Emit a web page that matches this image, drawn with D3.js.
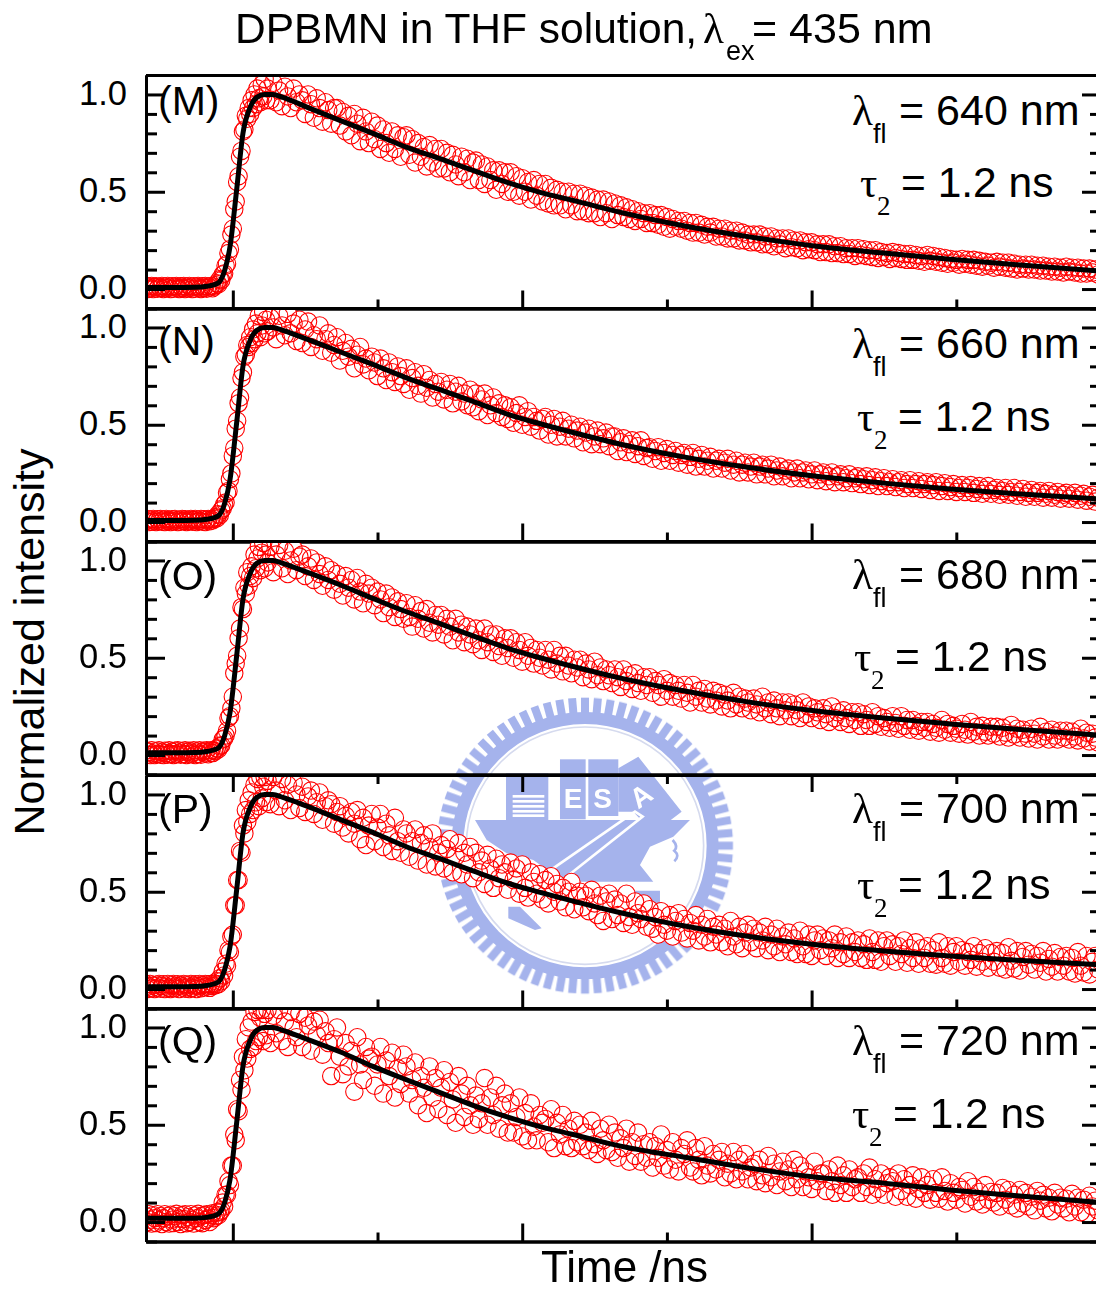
<!DOCTYPE html>
<html>
<head>
<meta charset="utf-8">
<script src="https://cdn.jsdelivr.net/npm/d3@7"></script>
<style>
  html, body { margin: 0; padding: 0; background: #fff; }
  svg { display: block; }
  text { font-family: "Liberation Sans", Arial, sans-serif; fill: #000; }
  .sym { font-family: "Liberation Serif", serif; }
</style>
</head>
<body>
<script>
// --- data ---
const timeNs = [
  -.30,-.295,-.29,-.285,-.28,-.275,-.27,-.265,-.26,-.255,-.25,-.245,
  -.24,-.235,-.23,-.225,-.22,-.215,-.21,-.205,-.20,-.195,-.19,-.185,
  -.18,-.175,-.17,-.165,-.16,-.155,-.15,-.145,-.14,-.135,-.13,-.125,
  -.12,-.115,-.11,-.105,-.10,-.095,-.09,-.085,-.08,-.075,-.07,-.065,
  -.06,-.055,-.05,-.045,-.04,-.035,-.03,-.025,-.02,-.015,-.01,-.005,
  0,.005,.01,.015,.02,.025,.03,.035,.04,.045,.05,.055,
  .06,.065,.07,.075,.08,.085,.09,.095,.10,.105,.11,.115,
  .12,.13,.14,.15,.16,.17,.18,.19,.20,.21,.22,.23,
  .24,.25,.26,.27,.28,.29,.30,.31,.32,.33,.34,.35,
  .36,.37,.38,.39,.40,.41,.42,.43,.44,.45,.46,.47,
  .48,.49,.50,.51,.52,.53,.54,.55,.56,.57,.58,.59,
  .60,.61,.62,.63,.64,.65,.66,.67,.68,.69,.70,.71,
  .72,.73,.74,.75,.76,.77,.78,.79,.80,.81,.82,.83,
  .84,.85,.86,.87,.88,.89,.90,.91,.92,.93,.94,.95,
  .96,.97,.98,.99,1.00,1.01,1.02,1.03,1.04,1.05,1.06,1.07,
  1.08,1.09,1.10,1.11,1.12,1.13,1.14,1.15,1.16,1.17,1.18,1.19,
  1.20,1.21,1.22,1.23,1.24,1.25,1.26,1.27,1.28,1.29,1.30,1.31,
  1.32,1.33,1.34,1.35,1.36,1.37,1.38,1.39,1.40,1.41,1.42,1.43,
  1.44,1.45,1.46,1.47,1.48,1.49,1.50,1.51,1.52,1.53,1.54,1.55,
  1.56,1.57,1.58,1.59,1.60,1.61,1.62,1.63,1.64,1.65,1.66,1.67,
  1.68,1.69,1.70,1.71,1.72,1.73,1.74,1.75,1.76,1.77,1.78,1.79,
  1.80,1.81,1.82,1.83,1.84,1.85,1.86,1.87,1.88,1.89,1.90,1.91,
  1.92,1.93,1.94,1.95,1.96,1.97,1.98,1.99,2.00,2.01,2.02,2.03,
  2.04,2.05,2.06,2.07,2.08,2.09,2.10,2.11,2.12,2.13,2.14,2.15,
  2.16,2.17,2.18,2.19,2.20,2.21,2.22,2.23,2.24,2.25,2.26,2.27,
  2.28,2.29,2.30,2.31,2.32,2.33,2.34,2.35,2.36,2.37,2.38,2.39,
  2.40,2.41,2.42,2.43,2.44,2.45,2.46,2.47,2.48,2.49,2.50,2.51,
  2.52,2.53,2.54,2.55,2.56,2.57,2.58,2.59,2.60,2.61,2.62,2.63,
  2.64,2.65,2.66,2.67,2.68,2.69,2.70,2.71,2.72,2.73,2.74,2.75,
  2.76,2.77,2.78,2.79,2.80,2.81,2.82,2.83,2.84,2.85,2.86,2.87,
  2.88,2.89,2.90,2.91,2.92,2.93,2.94,2.95,2.96,2.97,2.98,2.99
];

const intensityM = [
  .015,.00,.012,.004,.016,.00,.01,.014,.002,.012,.006,.016,
  .00,.012,.004,.016,.008,.00,.014,.002,.012,.016,.004,.00,
  .014,.006,.016,.00,.012,.004,.016,.008,.00,.014,.002,.012,
  .016,.004,.00,.014,.006,.016,.002,.012,.008,.016,.004,.012,
  .02,.03,.025,.05,.045,.075,.08,.12,.13,.185,.205,.28,
  .31,.41,.45,.55,.58,.68,.71,.81,.82,.89,.875,.93,
  .90,.97,.93,1.0,.95,1.03,.98,.96,1.05,.99,1.08,.97,
  1.03,.97,1.06,.96,1.02,.94,1.04,.99,.93,1.03,.96,1.0,
  .97,.90,1.0,.95,.88,.98,.93,.86,.96,.92,.85,.93,
  .93,.84,.91,.81,.89,.79,.90,.85,.76,.88,.81,.75,
  .86,.77,.84,.72,.82,.75,.70,.81,.72,.79,.68,.78,
  .79,.69,.77,.65,.75,.68,.73,.63,.74,.65,.72,.62,
  .72,.62,.70,.60,.69,.64,.58,.68,.60,.67,.56,.65,
  .66,.56,.64,.54,.63,.56,.61,.51,.61,.54,.60,.50,
  .60,.50,.58,.48,.57,.50,.55,.46,.56,.48,.54,.45,
  .54,.44,.52,.43,.51,.43,.50,.41,.50,.43,.49,.40,
  .49,.40,.48,.39,.47,.39,.46,.37,.46,.39,.45,.36,
  .44,.38,.43,.37,.42,.36,.41,.35,.40,.36,.39,.34,
  .39,.34,.38,.33,.38,.32,.37,.31,.36,.32,.35,.31,
  .35,.30,.34,.29,.34,.29,.33,.28,.32,.29,.32,.27,
  .31,.27,.31,.26,.30,.26,.30,.25,.29,.25,.28,.24,
  .28,.24,.28,.23,.27,.23,.27,.22,.26,.23,.26,.21,
  .26,.215,.25,.21,.25,.20,.24,.205,.24,.20,.23,.19,
  .23,.19,.23,.185,.22,.185,.22,.18,.21,.18,.21,.17,
  .21,.175,.205,.17,.20,.165,.20,.16,.19,.165,.185,.155,
  .19,.16,.185,.155,.18,.15,.18,.15,.175,.145,.17,.14,
  .175,.145,.17,.14,.165,.135,.16,.13,.155,.135,.15,.125,
  .155,.13,.15,.125,.15,.12,.145,.115,.14,.12,.135,.11,
  .14,.115,.135,.11,.135,.105,.13,.10,.125,.105,.125,.10,
  .125,.10,.12,.095,.12,.095,.115,.09,.115,.09,.11,.085,
  .115,.09,.11,.085,.11,.08,.105,.08,.105,.085,.10,.075
];

const intensityN = [
  .006,.016,.00,.012,.002,.016,.008,.00,.014,.004,.016,.002,
  .012,.00,.016,.006,.012,.00,.014,.004,.016,.008,.00,.012,
  .002,.016,.006,.014,.00,.012,.004,.016,.002,.010,.016,.00,
  .012,.006,.016,.002,.014,.00,.012,.016,.004,.014,.008,.016,
  .025,.02,.04,.035,.06,.07,.09,.10,.15,.16,.22,.25,
  .34,.38,.48,.52,.61,.64,.74,.77,.85,.86,.91,.90,
  .95,.92,.99,.94,1.02,.97,1.06,.95,1.01,1.08,.97,1.04,
  .98,1.05,1.0,.94,1.06,1.01,.96,1.07,.97,1.02,.93,1.04,
  .92,.99,1.03,.90,.96,.94,1.01,.88,.94,.97,.87,.91,
  .95,.83,.88,.92,.85,.89,.79,.86,.90,.81,.84,.78,
  .85,.82,.75,.84,.79,.73,.82,.77,.72,.80,.75,.71,
  .79,.68,.74,.77,.70,.66,.76,.69,.73,.64,.71,.67,
  .72,.63,.68,.71,.61,.67,.70,.62,.66,.60,.68,.59,
  .66,.57,.63,.66,.55,.60,.64,.56,.61,.54,.60,.53,
  .59,.51,.56,.60,.50,.54,.57,.49,.54,.52,.47,.53,
  .54,.45,.50,.53,.44,.49,.52,.44,.48,.50,.43,.47,
  .49,.41,.46,.48,.40,.44,.47,.40,.43,.46,.39,.44,
  .44,.365,.41,.43,.36,.40,.42,.35,.39,.42,.34,.38,
  .385,.325,.365,.385,.315,.355,.375,.315,.345,.365,.305,.345,
  .355,.295,.335,.355,.285,.325,.345,.285,.315,.335,.275,.315,
  .325,.275,.305,.325,.265,.295,.315,.255,.295,.305,.255,.285,
  .305,.245,.285,.295,.245,.275,.295,.235,.265,.285,.235,.265,
  .275,.225,.255,.275,.225,.255,.265,.22,.245,.265,.215,.245,
  .255,.21,.235,.255,.205,.235,.245,.205,.225,.245,.20,.225,
  .235,.195,.22,.235,.19,.215,.23,.185,.21,.225,.185,.205,
  .22,.18,.205,.215,.175,.195,.215,.175,.195,.21,.17,.195,
  .205,.165,.19,.205,.16,.185,.20,.16,.18,.195,.155,.175,
  .19,.155,.175,.19,.15,.17,.185,.145,.165,.185,.145,.165,
  .175,.14,.16,.175,.14,.155,.175,.135,.155,.17,.13,.15,
  .165,.13,.15,.16,.125,.145,.16,.125,.14,.155,.12,.14,
  .15,.12,.135,.15,.115,.135,.145,.11,.13,.14,.105,.125
];

const intensityO = [
  .022,.002,.016,.00,.024,.008,.00,.02,.006,.024,.002,.016,
  .00,.022,.01,.002,.024,.006,.018,.00,.022,.004,.024,.012,
  .002,.02,.006,.024,.00,.016,.022,.004,.012,.024,.00,.018,
  .006,.024,.002,.016,.022,.008,.024,.004,.018,.024,.01,.022,
  .02,.035,.03,.045,.05,.08,.085,.10,.125,.19,.20,.24,
  .30,.42,.47,.51,.60,.65,.76,.75,.86,.83,.94,.87,
  .92,.97,.91,1.03,.96,1.01,1.07,.95,1.04,1.09,.96,1.03,
  .99,1.07,.94,1.03,1.08,.96,1.05,.93,1.0,1.06,.95,1.02,
  1.03,.92,.97,1.01,.90,.99,.93,.87,.97,.90,.95,.85,
  .93,.88,.82,.92,.86,.90,.80,.91,.84,.78,.88,.83,
  .86,.77,.84,.80,.73,.83,.76,.81,.71,.79,.75,.70,
  .78,.71,.66,.77,.70,.74,.65,.75,.68,.63,.72,.67,
  .72,.62,.70,.66,.59,.70,.63,.67,.58,.66,.62,.57,
  .65,.59,.54,.65,.58,.62,.53,.62,.56,.51,.60,.55,
  .60,.50,.58,.54,.48,.58,.51,.55,.47,.54,.50,.46,
  .54,.49,.44,.54,.47,.51,.43,.51,.46,.42,.49,.45,
  .49,.40,.47,.44,.39,.48,.41,.45,.38,.44,.41,.37,
  .44,.40,.35,.44,.38,.41,.34,.42,.37,.33,.40,.36,
  .40,.32,.38,.36,.30,.39,.33,.37,.30,.36,.33,.29,
  .36,.32,.27,.36,.30,.33,.27,.34,.29,.26,.33,.28,
  .32,.25,.31,.28,.24,.32,.26,.30,.24,.29,.27,.23,
  .29,.26,.22,.30,.24,.27,.21,.28,.24,.20,.27,.23,
  .27,.20,.26,.23,.19,.27,.21,.25,.19,.24,.22,.18,
  .24,.21,.17,.25,.19,.22,.17,.23,.19,.16,.22,.18,
  .22,.15,.21,.18,.15,.22,.16,.20,.145,.19,.17,.14,
  .20,.165,.135,.20,.15,.18,.13,.18,.15,.125,.17,.14,
  .17,.12,.16,.14,.115,.18,.13,.16,.115,.15,.135,.11,
  .16,.13,.105,.17,.12,.145,.10,.15,.12,.10,.145,.11,
  .145,.095,.14,.115,.09,.155,.105,.135,.09,.13,.11,.085,
  .135,.11,.08,.145,.095,.12,.08,.13,.10,.08,.125,.09,
  .125,.08,.12,.095,.075,.135,.085,.115,.07,.11,.09,.065
];

const intensityP = [
  .024,.00,.014,.026,.004,.018,.00,.022,.008,.026,.002,.016,
  .024,.00,.012,.026,.006,.00,.02,.026,.004,.014,.024,.00,
  .018,.008,.026,.002,.022,.012,.00,.026,.006,.018,.024,.00,
  .014,.026,.004,.02,.008,.026,.012,.024,.006,.026,.016,.028,
  .02,.04,.025,.055,.04,.09,.07,.13,.12,.20,.19,.27,
  .28,.43,.43,.56,.56,.71,.70,.84,.80,.92,.86,.97,
  .90,1.01,.92,1.05,.96,1.08,.94,1.09,.98,1.04,1.09,.96,
  1.07,.95,1.09,1.02,.94,1.08,.97,1.05,.92,1.06,1.0,.93,
  1.04,.91,.99,1.02,.90,.96,1.01,.87,.94,.97,.95,.85,
  .91,.94,.83,.89,.80,.91,.85,.92,.77,.88,.74,.84,
  .90,.76,.83,.90,.73,.85,.79,.71,.88,.76,.70,.82,
  .80,.68,.76,.82,.66,.75,.79,.64,.73,.80,.63,.70,
  .74,.62,.72,.77,.60,.68,.75,.59,.70,.64,.73,.57,
  .70,.60,.66,.54,.69,.62,.52,.67,.57,.64,.60,.51,
  .65,.56,.62,.49,.64,.52,.47,.60,.55,.49,.59,.46,
  .56,.44,.58,.50,.54,.45,.52,.42,.50,.55,.41,.48,
  .50,.42,.48,.40,.51,.44,.38,.48,.35,.45,.49,.36,
  .46,.38,.44,.34,.49,.37,.33,.45,.39,.36,.44,.32,
  .41,.31,.37,.28,.40,.33,.30,.38,.27,.35,.39,.29,
  .36,.26,.34,.30,.38,.25,.33,.27,.36,.24,.32,.28,
  .33,.24,.31,.22,.35,.27,.23,.32,.21,.29,.33,.24,
  .31,.21,.29,.25,.32,.20,.28,.22,.31,.19,.27,.23,
  .29,.19,.26,.18,.30,.22,.18,.28,.17,.25,.28,.20,
  .26,.17,.25,.21,.28,.16,.24,.18,.27,.16,.24,.19,
  .25,.16,.23,.15,.26,.19,.15,.25,.14,.22,.25,.17,
  .23,.14,.22,.18,.25,.135,.21,.16,.24,.13,.21,.16,
  .22,.13,.20,.125,.24,.16,.13,.22,.12,.19,.22,.14,
  .20,.12,.19,.15,.22,.115,.185,.14,.21,.11,.185,.14,
  .195,.11,.185,.10,.215,.145,.105,.195,.095,.165,.195,.125,
  .18,.10,.17,.135,.195,.09,.155,.115,.185,.09,.165,.12,
  .17,.09,.16,.08,.19,.12,.085,.17,.075,.14,.17,.10
];

const intensityQ = [
  .03,.00,.04,.012,-.008,.035,.02,-.005,.04,.008,.03,-.01,
  .02,.04,.00,.03,-.008,.038,.012,-.005,.03,.042,.00,.018,
  -.01,.036,.015,.04,-.006,.025,.00,.04,.012,-.008,.034,.02,
  .042,.00,.03,-.006,.036,.01,.04,.018,.00,.035,.045,.02,
  .03,.05,.035,.05,.06,.10,.08,.14,.14,.21,.19,.29,
  .29,.45,.42,.58,.57,.73,.68,.85,.78,.94,.84,1.0,
  .89,1.03,.90,1.08,.93,1.09,.95,1.05,1.09,.93,1.07,.96,
  1.09,.92,1.06,.97,1.09,.93,1.03,.90,1.08,1.0,.95,1.07,
  .90,1.05,1.01,.88,1.03,.96,1.04,.86,.98,.92,.75,.94,
  1.0,.85,.76,.92,.80,.88,.67,.95,.81,.73,.90,.84,
  .85,.70,.81,.90,.66,.83,.75,.87,.64,.79,.71,.86,
  .80,.66,.73,.82,.60,.75,.69,.56,.80,.64,.74,.58,
  .69,.78,.55,.72,.63,.51,.75,.66,.54,.70,.60,.50,
  .65,.53,.61,.74,.50,.64,.55,.70,.48,.60,.66,.46,
  .61,.46,.54,.64,.44,.56,.42,.61,.49,.42,.55,.51,
  .53,.41,.58,.38,.51,.45,.55,.39,.48,.38,.52,.41,
  .50,.39,.46,.37,.52,.40,.35,.48,.42,.37,.50,.36,
  .46,.33,.43,.38,.48,.31,.41,.34,.46,.31,.40,.33,
  .41,.28,.39,.33,.45,.29,.37,.27,.41,.32,.26,.38,
  .35,.42,.28,.26,.38,.32,.24,.39,.29,.25,.35,.27,
  .32,.36,.23,.30,.25,.36,.22,.32,.26,.35,.22,.28,
  .30,.21,.32,.24,.20,.34,.23,.30,.19,.26,.31,.21,
  .27,.18,.32,.22,.29,.18,.26,.23,.17,.31,.21,.25,
  .25,.16,.27,.21,.15,.29,.19,.24,.15,.27,.18,.22,
  .23,.15,.25,.18,.28,.14,.22,.17,.25,.14,.20,.23,
  .21,.13,.25,.16,.22,.13,.19,.24,.12,.17,.23,.15,
  .19,.115,.22,.15,.12,.23,.16,.105,.20,.15,.115,.18,
  .165,.095,.21,.13,.18,.105,.155,.09,.19,.115,.155,.10,
  .15,.08,.175,.115,.165,.085,.14,.07,.165,.095,.15,.08,
  .13,.06,.16,.11,.14,.07,.125,.055,.15,.09,.125,.07,
  .12,.05,.145,.08,.125,.05,.115,.04,.135,.08,.11,.06
];

const fitTime = [-.30,-.20,-.13,-.09,-.052,-.028,-.01,.014,.035,.059,.083,.11,.138,.173,.256,.37,.484,.602,.716,.83,.948,1.062,1.176,1.34,1.557,1.785,2.017,2.249,2.478,2.709,3.0];
const fitM = [.008,.008,.009,.014,.03,.097,.215,.52,.80,.93,.985,1.0,1.0,.985,.935,.867,.80,.728,.67,.61,.548,.497,.456,.394,.325,.268,.22,.185,.153,.125,.092];
const fitN = [.008,.008,.009,.014,.03,.097,.215,.52,.80,.93,.985,1.0,1.0,.985,.94,.875,.81,.74,.68,.62,.555,.505,.46,.40,.335,.28,.235,.20,.17,.145,.118];
const fitO = [.012,.012,.013,.018,.034,.10,.215,.52,.80,.93,.985,1.0,1.0,.985,.94,.875,.805,.735,.675,.612,.55,.50,.455,.395,.33,.272,.226,.19,.16,.132,.102];
const fitP = [.012,.012,.013,.018,.034,.10,.215,.52,.80,.93,.985,1.0,1.0,.985,.94,.872,.805,.73,.67,.607,.545,.497,.452,.392,.325,.27,.228,.196,.17,.148,.125];
const fitQ = [.02,.02,.02,.024,.04,.10,.215,.52,.80,.93,.985,1.0,1.0,.985,.94,.875,.80,.73,.665,.60,.54,.49,.45,.39,.334,.277,.23,.20,.165,.135,.10];

const panelIds = ["(M)", "(N)", "(O)", "(P)", "(Q)"];
const emissionNm = ["640", "660", "680", "700", "720"];
const lifetimeLabel = "= 1.2 ns";
const intensityList = [intensityM, intensityN, intensityO, intensityP, intensityQ];
const fitList = [fitM, fitN, fitO, fitP, fitQ];
const yMajor = [0, 0.5, 1.0];
const yMinor = [-.1, .1, .2, .3, .4, .6, .7, .8, .9, 1.1];
const xMajor = [0, 1, 2, 3];
const xMinor = [.5, 1.5, 2.5];

// --- layout ---
const width = 1096, height = 1291;
const panelTops = [75, 308, 541, 775, 1008];
const panelH = 233.5;
const plotLeft = 146, plotRight = 1101;
const idBaseline = [115, 355, 590, 823, 1055];
const lambdaBaseline = [125, 358, 589, 823, 1055];
const tauBaseline = [197, 431, 671, 899, 1128];
const tauX = [860, 857, 854, 857, 852];
const bottomTicks = [true, true, false, true, true];
const topTicks = [false, false, false, true, false];

const svg = d3.select("body").append("svg")
  .attr("width", width)
  .attr("height", height);

const defs = svg.append("defs");
defs.append("filter").attr("id", "soft")
  .append("feGaussianBlur").attr("stdDeviation", 1.6);

const xScale = d3.scaleLinear().domain([-0.30, 3.0]).range([plotLeft, 146 + 955]);

// watermark sits behind everything, drawn in zoomed units and scaled down
function drawLogo() {
  const blue = "#a5b3ec";
  const logo = svg.append("g")
    .attr("transform", "translate(420,680) scale(0.3333)")
    .attr("filter", "url(#soft)");
  const cx = 495, cy = 497;
  d3.range(72).forEach(i => {
    logo.append("rect")
      .attr("x", cx - 12).attr("y", cy - 444)
      .attr("width", 24).attr("height", 60)
      .attr("fill", blue)
      .attr("transform", `rotate(${i * 5} ${cx} ${cy})`);
  });
  logo.append("circle").attr("cx", cx).attr("cy", cy).attr("r", 383)
    .attr("fill", "none").attr("stroke", blue).attr("stroke-width", 36);
  logo.append("circle").attr("cx", cx).attr("cy", cy).attr("r", 356)
    .attr("fill", "none").attr("stroke", "#d5daee").attr("stroke-width", 5);

  const poly = (pts, fill) => logo.append("path")
    .attr("d", d3.line()(pts) + "Z").attr("fill", fill);
  const rect = (x, y, w, h, fill) => logo.append("rect")
    .attr("x", x).attr("y", y).attr("width", w).attr("height", h).attr("fill", fill);

  rect(258, 280, 127, 140, blue);
  rect(420, 238, 77, 180, blue);
  rect(505, 238, 90, 170, blue);
  poly([[595, 265], [655, 230], [785, 395], [700, 460], [640, 395], [595, 395]], blue);
  poly([[165, 420], [810, 420], [760, 470], [690, 500], [660, 555], [700, 605], [430, 605], [340, 540], [260, 520], [200, 480]], blue);
  poly([[610, 632], [720, 632], [720, 690], [670, 705], [610, 660]], blue);
  poly([[265, 680], [300, 680], [365, 745], [345, 750], [265, 715]], blue);

  [345, 360, 375, 390, 403].forEach(y => rect(278, y, 95, 8, "#fff"));
  d3.range(8).forEach(i => rect(410, 300 + i * 14, 6, 6, "#fff"));
  logo.append("path")
    .attr("d", "M395,568L645,395L668,410L438,592")
    .attr("fill", "none").attr("stroke", "#fff").attr("stroke-width", 8);
  logo.append("path")
    .attr("d", "M758,480q18,20 5,32q18,15 0,32")
    .attr("fill", "none").attr("stroke", blue).attr("stroke-width", 8);

  const letter = (s, x, y, r) => logo.append("text")
    .attr("transform", `translate(${x},${y}) rotate(${r})`)
    .attr("text-anchor", "middle")
    .attr("font-size", 84).attr("font-weight", "bold")
    .style("fill", "#fff").text(s);
  letter("E", 459, 385, 0);
  letter("S", 548, 385, 0);
  letter("A", 680, 372, -35);
}
drawLogo();

panelTops.forEach((top, p) => {
  const yScale = d3.scaleLinear().domain([-0.1, 1.1]).range([top + panelH, top]);

  const clipId = "clip" + p;
  defs.append("clipPath").attr("id", clipId)
    .append("rect")
    .attr("x", plotLeft).attr("y", top)
    .attr("width", plotRight - plotLeft).attr("height", panelH);

  const points = timeNs.map((t, i) => ({ t: t, v: intensityList[p][i] }));
  const marks = svg.append("g").attr("clip-path", `url(#${clipId})`);

  // white discs first so the rings show over one another but hide the watermark
  marks.append("g").selectAll("circle")
    .data(points).join("circle")
    .attr("cx", d => xScale(d.t))
    .attr("cy", d => yScale(d.v))
    .attr("r", 8.7)
    .attr("fill", "#fff");
  marks.append("g").selectAll("circle")
    .data(points).join("circle")
    .attr("cx", d => xScale(d.t))
    .attr("cy", d => yScale(d.v))
    .attr("r", 8.7)
    .attr("fill", "none")
    .attr("stroke", "#ff0000")
    .attr("stroke-width", 1.1);

  const fitLine = d3.line()
    .x(d => xScale(d[0]))
    .y(d => yScale(d[1]))
    .curve(d3.curveMonotoneX);
  marks.append("path")
    .datum(d3.zip(fitTime, fitList[p]))
    .attr("d", fitLine)
    .attr("fill", "none")
    .attr("stroke", "#000")
    .attr("stroke-width", 5);

  // axes
  const styleAxis = g => {
    g.selectAll("path,line").attr("stroke", "#000").attr("stroke-width", 3);
    g.selectAll("text").attr("font-size", 34.5).style("fill", "#000")
      .style("font-family", '"Liberation Sans", Arial, sans-serif');
  };

  const leftMajor = d3.axisLeft(yScale).tickValues(yMajor)
    .tickSizeInner(-19).tickSizeOuter(0).tickPadding(19)
    .tickFormat(d3.format(".1f"));
  svg.append("g").attr("transform", `translate(${plotLeft},0)`).call(leftMajor)
    .call(styleAxis)
    .call(g => g.selectAll("text").attr("dy", ".28em"));
  svg.append("g").attr("transform", `translate(${plotLeft},0)`)
    .call(d3.axisLeft(yScale).tickValues(yMinor).tickSizeInner(-11).tickSizeOuter(0).tickFormat(""))
    .call(styleAxis);

  svg.append("g").attr("transform", `translate(${plotRight},0)`)
    .call(d3.axisRight(yScale).tickValues(yMajor).tickSizeInner(-19).tickSizeOuter(0).tickFormat(""))
    .call(styleAxis);
  svg.append("g").attr("transform", `translate(${plotRight},0)`)
    .call(d3.axisRight(yScale).tickValues(yMinor).tickSizeInner(-11).tickSizeOuter(0).tickFormat(""))
    .call(styleAxis);

  const bMaj = bottomTicks[p] ? -18 : 0, bMin = bottomTicks[p] ? -9 : 0;
  svg.append("g").attr("transform", `translate(0,${top + panelH})`)
    .call(d3.axisBottom(xScale).tickValues(xMajor).tickSizeInner(bMaj).tickSizeOuter(0).tickFormat(""))
    .call(styleAxis);
  svg.append("g").attr("transform", `translate(0,${top + panelH})`)
    .call(d3.axisBottom(xScale).tickValues(xMinor).tickSizeInner(bMin).tickSizeOuter(0).tickFormat(""))
    .call(styleAxis);

  const tMaj = topTicks[p] ? -17 : -2, tMin = topTicks[p] ? -9 : -2;
  svg.append("g").attr("transform", `translate(0,${top})`)
    .call(d3.axisTop(xScale).tickValues(xMajor).tickSizeInner(tMaj).tickSizeOuter(0).tickFormat(""))
    .call(styleAxis);
  svg.append("g").attr("transform", `translate(0,${top})`)
    .call(d3.axisTop(xScale).tickValues(xMinor).tickSizeInner(tMin).tickSizeOuter(0).tickFormat(""))
    .call(styleAxis);

  // panel annotations
  svg.append("text").attr("x", 158).attr("y", idBaseline[p])
    .attr("font-size", 41).text(panelIds[p]);

  svg.append("text").attr("class", "sym").attr("x", 852).attr("y", lambdaBaseline[p])
    .attr("font-size", 43).text("λ");
  svg.append("text").attr("x", 873).attr("y", lambdaBaseline[p] + 18)
    .attr("font-size", 27).text("fl");
  svg.append("text").attr("x", 899).attr("y", lambdaBaseline[p])
    .attr("font-size", 43).text("= " + emissionNm[p] + " nm");

  svg.append("text").attr("class", "sym").attr("x", tauX[p]).attr("y", tauBaseline[p])
    .attr("font-size", 43).text("τ");
  svg.append("text").attr("class", "sym").attr("x", tauX[p] + 17).attr("y", tauBaseline[p] + 18)
    .attr("font-size", 27).text("2");
  svg.append("text").attr("x", tauX[p] + 41).attr("y", tauBaseline[p])
    .attr("font-size", 42.5).text(lifetimeLabel);
});

// title and axis titles
svg.append("text").attr("x", 235).attr("y", 43).attr("font-size", 42.5).text("DPBMN in THF solution,");
svg.append("text").attr("class", "sym").attr("x", 703).attr("y", 43).attr("font-size", 43).text("λ");
svg.append("text").attr("x", 726).attr("y", 60).attr("font-size", 27).text("ex");
svg.append("text").attr("x", 752).attr("y", 43).attr("font-size", 43).text("= 435 nm");

svg.append("text").attr("x", 541).attr("y", 1282).attr("font-size", 44).text("Time /ns");
svg.append("text")
  .attr("transform", "translate(44,642) rotate(-90)")
  .attr("text-anchor", "middle")
  .attr("font-size", 43)
  .text("Normalized intensity");
</script>
</body>
</html>
